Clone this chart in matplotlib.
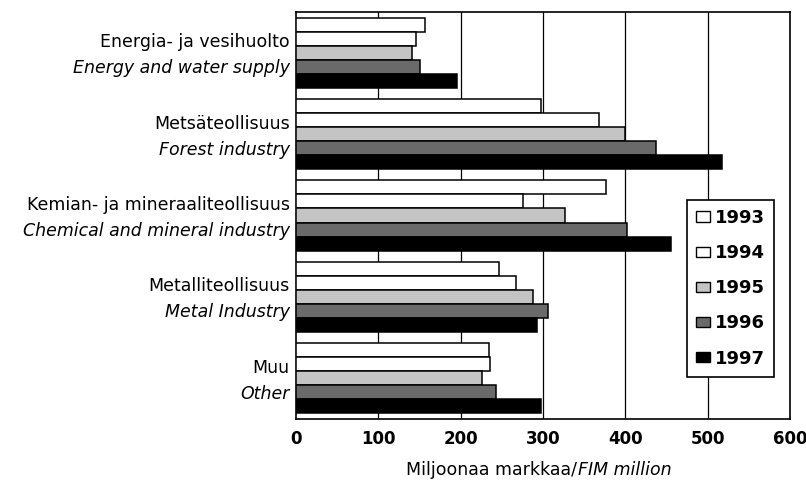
import matplotlib
matplotlib.use("Agg")
import matplotlib.pyplot as plt
from matplotlib.patches import Patch
import numpy as np

categories_fi = ["Energia- ja vesihuolto", "Metsäteollisuus", "Kemian- ja mineraaliteollisuus",
                 "Metalliteollisuus", "Muu"]
categories_en = ["Energy and water supply", "Forest industry", "Chemical and mineral industry",
                 "Metal Industry", "Other"]
years = ["1993", "1994", "1995", "1996", "1997"]
v1993 = [157, 297, 376, 247, 234]
v1994 = [146, 368, 276, 267, 236]
v1995 = [141, 400, 327, 288, 226]
v1996 = [151, 437, 402, 306, 243]
v1997 = [196, 517, 455, 293, 297]
series = [v1993, v1994, v1995, v1996, v1997]
xticks = [0, 100, 200, 300, 400, 500, 600]

colors = ["#ffffff", "#ffffff", "#c4c4c4", "#6a6a6a", "#000000"]
plt.rcParams['font.family'] = ["DejaVu Sans"]

fig = plt.figure(figsize=(8.06, 4.86), dpi=100)
ax = fig.add_axes([296/806, 1-419/486, (790-296)/806, (419-12)/486])

h = 0.172
y = np.arange(len(categories_fi))
for j, vals in enumerate(series):
    ax.barh(y + (j - 2) * h, vals, height=h, color=colors[j], edgecolor="black",
            linewidth=1.1, zorder=3, label=years[j])

ax.set_xlim(0, 600)
ax.set_ylim(4.5, -0.5)
ax.set_xticks(xticks)
ax.set_xticklabels([str(t) for t in xticks], fontsize=12, fontweight="bold")
ax.tick_params(axis="x", length=0, pad=8)
ax.set_yticks([])
for t in xticks[1:-1]:
    ax.axvline(t, color="black", linewidth=0.9, zorder=1)
for s in ax.spines.values():
    s.set_linewidth(1.2)

for i in range(len(categories_fi)):
    ax.text(-0.013, i - 0.13, categories_fi[i], transform=ax.get_yaxis_transform(),
            ha="right", va="center", fontsize=12.5)
    ax.text(-0.013, i + 0.19, categories_en[i], transform=ax.get_yaxis_transform(),
            ha="right", va="center", fontsize=12.5, style="italic")

fig.text(577/806, 1-470/486, "Miljoonaa markkaa/", ha="right", va="center", fontsize=12.5)
fig.text(578/806, 1-470/486, "FIM million", ha="left", va="center", fontsize=12.5, style="italic")

handles = [Patch(facecolor=colors[j], edgecolor="black", linewidth=1.0) for j in range(5)]
leg = ax.legend(handles, years, loc="upper left", bbox_to_anchor=(687/806, 1-200/486),
                bbox_transform=fig.transFigure, borderaxespad=0, fancybox=False,
                edgecolor="black", framealpha=1, labelspacing=0.95,
                handlelength=0.8, handleheight=0.5, handletextpad=0.25, borderpad=0.5,
                prop={"weight": "bold", "size": 13})
leg.get_frame().set_linewidth(1.2)
leg.set_zorder(5)

fig.savefig("out.png", dpi=100)
